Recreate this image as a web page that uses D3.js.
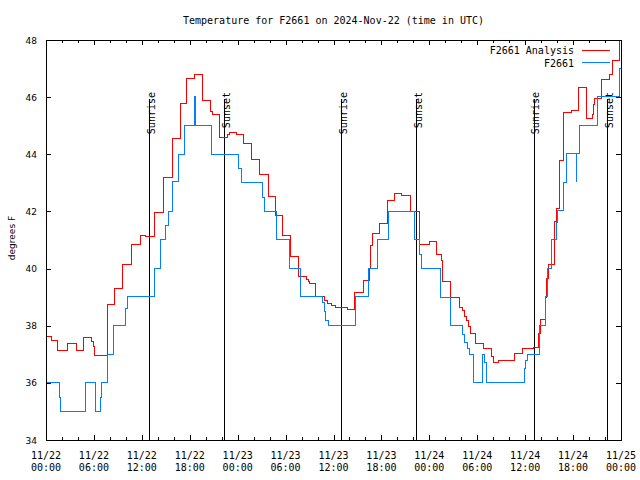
<!DOCTYPE html>
<html><head><meta charset="utf-8">
<script src="https://cdn.jsdelivr.net/npm/d3@7"></script>
<style>body{margin:0;background:#fff}svg{display:block}</style>
</head><body>
<script>
// ---- data (hours since 2024-11-22 00:00 UTC, degrees F), step changes ----
const analysisHours = [0,0.71,1.4,2.7,3.78,4.75,5.75,5.92,6.08,7.66,8.6,9.62,10.66,11.8,12.52,13.6,14.7,15.8,16.82,17.65,18.62,19.65,20.65,20.85,21.75,22.75,22.95,23.88,24.72,25.75,26.76,27.8,28.78,29.65,30.62,31.65,32.6,32.85,33.0,33.75,34.9,35.3,35.7,36.3,37.7,38.63,39.72,40.45,40.65,40.88,41.78,42.8,43.6,44.52,45.64,46.75,47.7,48.05,48.88,49.5,49.7,50.65,51.78,52.15,52.35,52.6,52.85,53.1,53.72,54.8,55.8,55.98,56.62,58.68,59.72,61.0,61.7,61.88,62.6,62.72,62.88,63.62,63.88,64.35,64.75,65.76,66.62,67.66,68.4,68.58,68.7,69.62,70.5,70.98,71.8,72];
const analysisTemps = [37.63,37.5,37.15,37.38,37.15,37.6,37.45,37.27,36.97,38.75,39.31,40.13,40.85,41.16,41.12,41.95,43.18,44.56,45.78,46.66,46.8,45.9,45.49,45.4,44.6,44.7,44.77,44.7,44.38,43.82,43.3,42.52,41.875,41.17,40.44,39.74,39.62,39.55,39.48,39.04,38.9,38.78,38.71,38.64,38.57,39.18,39.58,40.0,40.8,41.23,41.58,42.4,42.63,42.57,42.0,40.83,40.86,40.94,40.48,40.3,39.54,39.0,38.64,38.53,38.32,38.2,37.97,37.73,37.38,37.19,36.92,36.73,36.79,37.03,37.22,37.24,37.73,38.22,39.0,39.66,40.15,41.64,42.11,43.8,45.46,45.55,46.34,45.26,45.38,45.73,45.96,46.62,46.8,47.3,47.97,47.97];
const stationHours = [0,1.65,1.85,5.0,6.15,6.25,6.8,6.95,7.65,8.45,9.98,10.25,13.62,14.32,14.95,15.3,15.9,16.62,17.28,18.58,18.7,20.78,24.08,24.45,27.1,27.4,28.92,30.5,31.9,34.6,34.85,35.05,35.35,38.7,40.42,41.47,42.88,46.2,46.75,47.05,49.35,50.7,52.2,52.45,52.75,53.05,53.58,54.6,54.95,55.15,59.95,60.1,60.25,61.8,62.5,62.85,63.35,63.9,64.1,64.78,65.2,66.37,66.45,66.85,69.0,71.85,72];
const stationTemps = [36.02,35.5,35.0,36.02,35.5,35.0,35.5,36.02,37.0,38.01,38.6,39.02,40.01,41.02,41.5,41.99,43.04,44.0,45.0,46.04,45.0,44.0,43.5,43.02,42.5,42.0,41.02,40.01,39.02,38.8,38.5,38.2,38.01,39.02,40.01,41.02,42.0,41.02,40.5,40.01,39.0,38.01,37.7,37.4,37.2,37.01,36.02,37.01,36.7,36.02,36.5,36.8,37.01,38.01,39.02,40.01,41.02,41.6,42.05,43.0,44.03,43.04,44.03,45.01,46.02,47.01,47.01];
const sunriseHours = [12.93, 36.98, 61.07];
const sunsetHours = [22.33, 46.37, 70.3];
const yTicks = [34,36,38,40,42,44,46,48];
const xMajorHours = [0,6,12,18,24,30,36,42,48,54,60,66,72];
const xTickDates = ["11/22","11/22","11/22","11/22","11/23","11/23","11/23","11/23","11/24","11/24","11/24","11/24","11/25"];
const xTickTimes = ["00:00","06:00","12:00","18:00","00:00","06:00","12:00","18:00","00:00","06:00","12:00","18:00","00:00"];
const seriesNames = ["F2661 Analysis","F2661"];
const seriesColors = ["#ff0000","#0080ff"];
const titleText = "Temperature for F2661 on 2024-Nov-22 (time in UTC)";
const yLabel = "degrees F";

const W=640,H=480, L=46,R=621,T=40,B=440;
const mono = "'DejaVu Sans Mono', 'Liberation Mono', monospace";
const sans = "'DejaVu Sans', sans-serif";
const svg = d3.select("body").append("svg").attr("width",W).attr("height",H);
const x = d3.scaleLinear().domain([0,72]).range([L,R]);
const y = d3.scaleLinear().domain([34,48]).range([B,T]);
const px = v => Math.round(v)+0.5;

// title
svg.append("text").attr("x",(L+R)/2).attr("y",24).attr("text-anchor","middle")
  .attr("font-family",mono).attr("font-size",10).text(titleText);

// sunrise/sunset lines & labels
const events = sunriseHours.map(h=>({h,l:"Sunrise"})).concat(sunsetHours.map(h=>({h,l:"Sunset"})));
const ev = svg.append("g");
ev.selectAll("line").data(events).join("line")
  .attr("x1",d=>px(x(d.h))).attr("x2",d=>px(x(d.h))).attr("y1",99).attr("y2",B)
  .attr("stroke","#000").attr("shape-rendering","crispEdges");
ev.selectAll("text").data(events).join("text")
  .attr("transform",d=>`translate(${x(d.h)+5.5},92) rotate(-90)`)
  .attr("text-anchor","end").attr("font-family",mono).attr("font-size",10).text(d=>d.l);

// legend
const lg = svg.append("g");
seriesNames.forEach((n,i)=>{
  lg.append("text").attr("x",574).attr("y",54+i*12.5).attr("text-anchor","end")
    .attr("font-family",mono).attr("font-size",10).text(n);
  lg.append("line").attr("x1",582).attr("x2",610).attr("y1",px(49.6+i*12.6)).attr("y2",px(49.6+i*12.6))
    .attr("stroke",seriesColors[i]).attr("shape-rendering","crispEdges");
});

// data
const line = d3.line().x(d=>x(d[0])).y(d=>y(d[1])).curve(d3.curveStepAfter);
const series = [d3.zip(analysisHours,analysisTemps), d3.zip(stationHours,stationTemps)];
svg.append("g").selectAll("path").data(series).join("path")
  .attr("d",line).attr("fill","none").attr("stroke",(d,i)=>seriesColors[i])
  .attr("stroke-width",1).attr("shape-rendering","crispEdges");

// frame
svg.append("rect").attr("x",L+0.5).attr("y",T+0.5).attr("width",R-L).attr("height",B-T)
  .attr("fill","none").attr("stroke","#000").attr("shape-rendering","crispEdges");

// y ticks
const gy = svg.append("g");
gy.selectAll("path").data(yTicks).join("path")
  .attr("d",d=>`M${L},${px(y(d))}h5M${R},${px(y(d))}h-5`).attr("stroke","#000").attr("shape-rendering","crispEdges");
gy.selectAll("text").data(yTicks).join("text")
  .attr("x",37).attr("y",d=>y(d)+3.5).attr("text-anchor","end")
  .attr("font-family",sans).attr("font-size",9).text(d=>d);

// x ticks (minor every 2h, major every 6h)
const minor = d3.range(0,73,2);
svg.append("g").selectAll("path").data(minor).join("path")
  .attr("d",d=>{const len = d%6===0?5:3; const xx=px(x(d)); return `M${xx},${B}v${-len}M${xx},${T}v${len}`;})
  .attr("stroke","#000").attr("shape-rendering","crispEdges");
const gx = svg.append("g").selectAll("text").data(xMajorHours).join("text")
  .attr("text-anchor","middle").attr("font-family",mono).attr("font-size",10);
gx.append("tspan").attr("x",d=>x(d)).attr("y",459).text((d,i)=>xTickDates[i]);
gx.append("tspan").attr("x",d=>x(d)).attr("y",470.5).text((d,i)=>xTickTimes[i]);

// y label
svg.append("text").attr("transform",`translate(15,238) rotate(-90)`).attr("text-anchor","middle")
  .attr("font-family",sans).attr("font-size",9).text(yLabel);
</script>
</body></html>
